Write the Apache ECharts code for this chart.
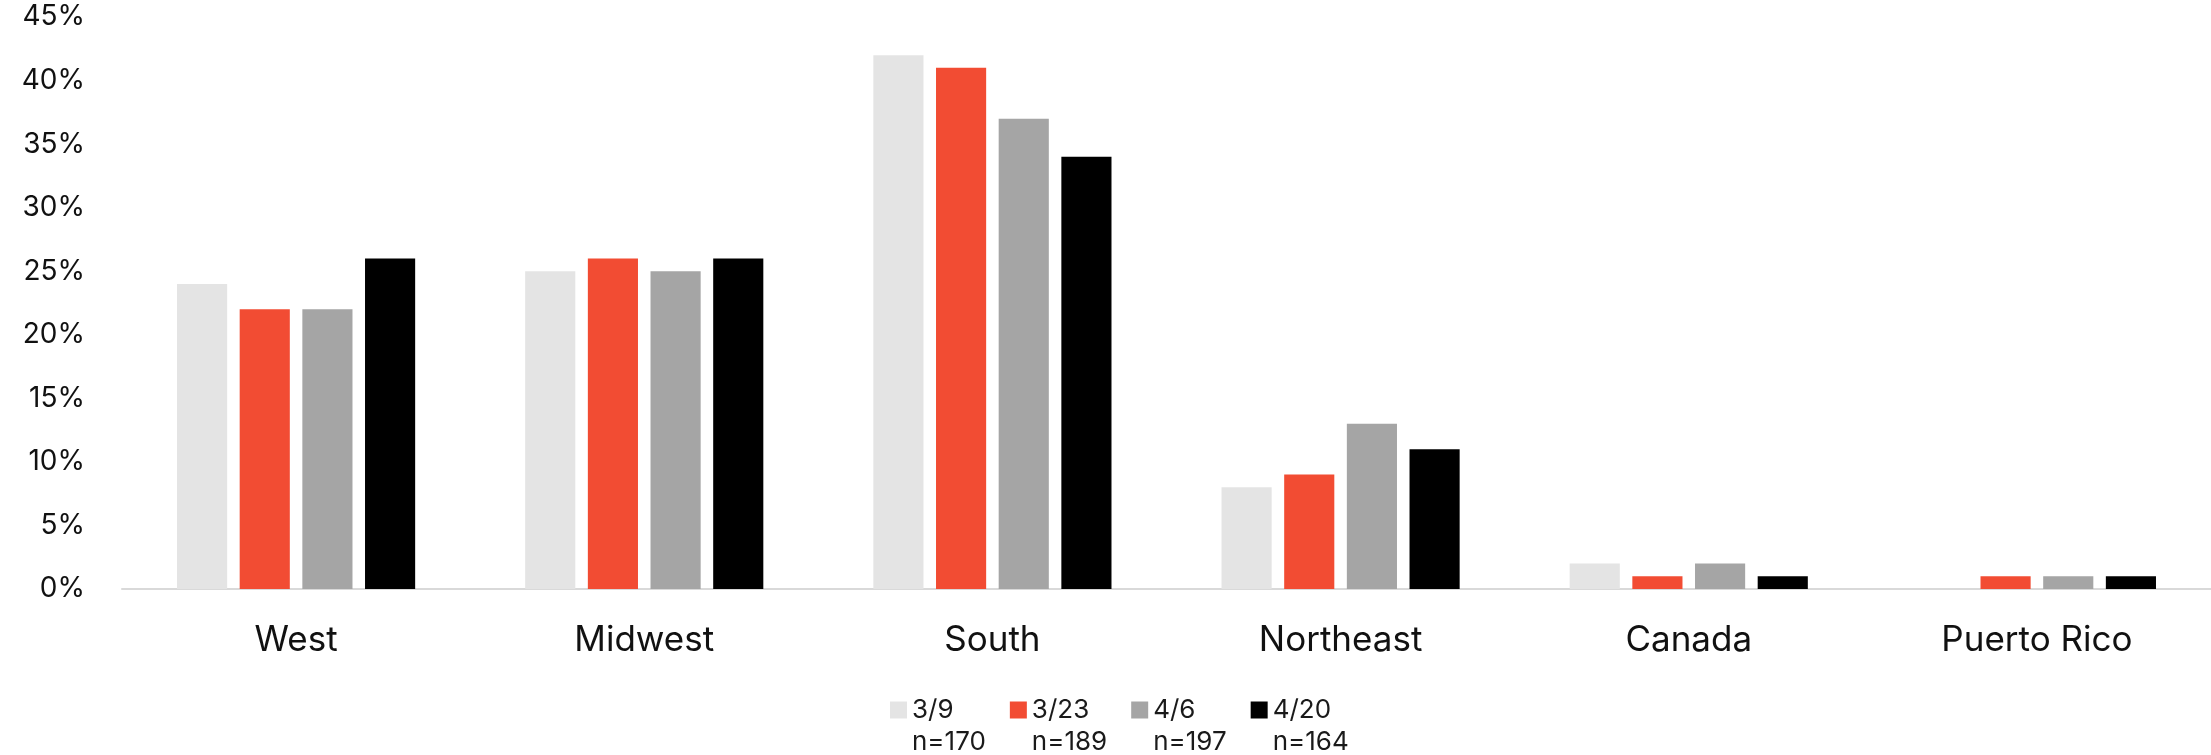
<!DOCTYPE html>
<html>
<head>
<meta charset="utf-8">
<script src="https://cdn.jsdelivr.net/npm/echarts@6/dist/echarts.min.js"></script>
<style>
  html, body { margin: 0; padding: 0; background: #ffffff; }
  #chart { width: 2211px; height: 755px; }
</style>
</head>
<body>
<div id="chart"></div>
<script>
// Regional share of respondents by survey wave
const categories = ['West', 'Midwest', 'South', 'Northeast', 'Canada', 'Puerto Rico'];
const waveNames = ['3/9', '3/23', '4/6', '4/20'];
const sampleSizes = ['n=170', 'n=189', 'n=197', 'n=164'];
const wave39  = [24, 25, 42, 8, 2, 0];
const wave323 = [22, 26, 41, 9, 1, 1];
const wave46  = [22, 25, 37, 13, 2, 1];
const wave420 = [26, 26, 34, 11, 1, 1];
const yTicks = [0, 5, 10, 15, 20, 25, 30, 35, 40, 45];

const waveValues = [wave39, wave323, wave46, wave420];
const waveColors = ['#e4e4e4', '#f24c33', '#a5a5a5', '#000000'];
const FONT = 'Inter, "Noto Sans", sans-serif';

const chart = echarts.init(document.getElementById('chart'));

chart.setOption({
  animation: false,
  backgroundColor: '#ffffff',
  textStyle: { fontFamily: FONT },
  grid: { left: 122, right: -3, top: 17, bottom: 166, containLabel: false },
  legend: {
    data: waveNames,
    left: 885,
    top: 657,
    itemWidth: 17,
    itemHeight: 17,
    itemGap: 24,
    icon: 'rect',
    selectedMode: false,
    // a blank first line keeps the swatch level with the wave label,
    // with the sample size on the line below
    formatter: function (name) {
      return ' \n' + name + '\n' + sampleSizes[waveNames.indexOf(name)];
    },
    textStyle: {
      fontFamily: FONT,
      fontSize: 26,
      color: '#1a1a1a',
      lineHeight: 32
    }
  },
  xAxis: {
    type: 'category',
    data: categories,
    axisLine: { show: true, lineStyle: { color: '#d9d9d9', width: 2 } },
    axisTick: { show: false },
    axisLabel: { fontSize: 35, color: '#111111', margin: 34, fontFamily: FONT }
  },
  yAxis: {
    type: 'value',
    min: yTicks[0],
    max: yTicks[yTicks.length - 1],
    interval: 5,
    splitLine: { show: false },
    axisLine: { show: false },
    axisTick: { show: false },
    axisLabel: {
      fontSize: 28,
      color: '#111111',
      margin: 37,
      fontFamily: FONT,
      formatter: function (v) { return v + '%'; }
    }
  },
  series: waveNames.map(function (name, i) {
    return {
      name: name,
      type: 'bar',
      data: waveValues[i],
      barWidth: '14.4%',
      barGap: '25%',
      itemStyle: { color: waveColors[i] }
    };
  })
});
</script>
</body>
</html>
